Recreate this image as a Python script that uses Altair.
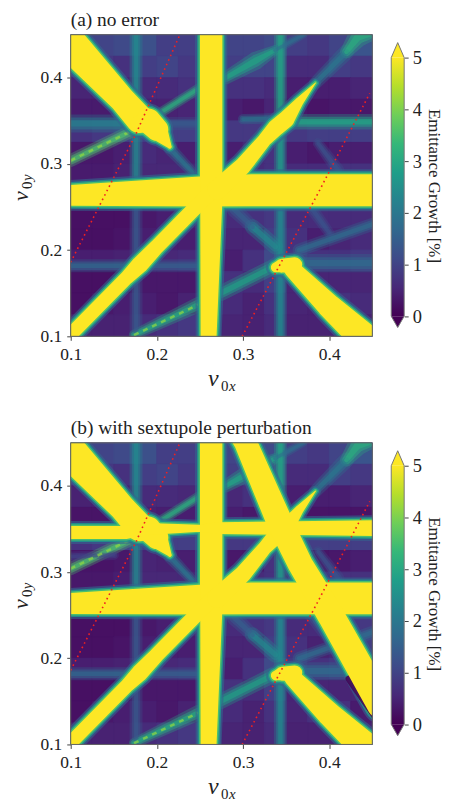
import altair as alt
import pandas as pd

FONT = "Liberation Serif"
XS = [0.1125, 0.1375, 0.1625, 0.1875, 0.2125, 0.2375, 0.2625, 0.2875, 0.3125, 0.3375, 0.3625, 0.3875, 0.4125, 0.4375]
YS = [0.4375, 0.4125, 0.3875, 0.3625, 0.3375, 0.3125, 0.2875, 0.2625, 0.2375, 0.2125, 0.1875, 0.1625, 0.1375, 0.1125]
GRID_A = [
    [.9, 1.0, 1.1, 1.2, .9, .9, 1, 1.0, 1.0, 1.1, .9, .8, 1.0, 1.3],
    [.8, .8, .7, .9, 1.0, .8, 1, .9, 1.0, 1.0, .6, .6, .9, .8],
    [.5, .5, .5, .6, .6, .7, 1, .7, .7, .6, .4, .4, .4, .5],
    [.35, .35, .45, .45, .45, .5, 1, .4, .3, .5, .3, .25, .3, .3],
    [.7, .8, .9, .9, .9, .9, 1, .8, .8, .9, .8, .9, .9, .9],
    [.3, .3, .4, .6, .5, .4, 1, .4, .6, .7, .4, .3, .4, .4],
    [.35, .35, .45, .55, .55, .55, 1, .6, .6, .7, .6, .6, .7, .7],
    [.5, .5, .5, .5, .5, .5, .5, .5, .5, .5, .5, .5, .5, .5],
    [.2, .2, .2, .3, .4, .5, 1, .6, .7, .8, .6, .6, .6, .6],
    [.2, .2, .25, .4, .4, .4, 1, .5, .5, .9, .7, .4, .5, .6],
    [.4, .4, .45, .55, .55, .6, 1, .4, .7, 1.1, .8, .7, .7, .8],
    [.2, .2, .2, .3, .3, .3, 1, .7, .6, .9, .5, .5, .5, .5],
    [.2, .3, .4, .4, .3, .45, 1, .6, .45, .7, .5, .45, .7, .6],
    [.45, .45, .45, .6, .7, .8, 1, .5, .45, .6, .45, .45, .45, .45],
]
GRID_B = [
    [.9, 1.0, 1.1, 1.2, .9, .9, 1, 1.0, 1.0, 1.1, .9, .8, 1.0, 1.3],
    [.8, .8, .7, .9, 1.0, .8, 1, .9, 1.0, 1.0, .6, .6, .9, .8],
    [.45, .45, .45, .6, .6, .55, 1, .55, .7, .6, .4, .4, .4, .5],
    [.25, .25, .45, .45, .4, .4, 1, .4, .3, .5, .25, .25, .25, .25],
    [.7, .8, .9, .9, .9, .9, 1, .8, .8, .9, .8, .9, .9, .9],
    [.25, .25, .3, .5, .45, .4, 1, .3, .3, .7, .4, .25, .3, .4],
    [.3, .3, .4, .55, .55, .55, 1, .45, .6, .7, .6, .7, .7, .7],
    [.5, .5, .5, .5, .5, .5, .5, .5, .5, .5, .5, .5, .5, .5],
    [.2, .2, .2, .3, .4, .5, 1, .6, .7, .8, .6, .6, .6, .8],
    [.2, .2, .25, .4, .4, .4, 1, .5, .5, .9, .7, .45, .55, .9],
    [.4, .4, .45, .55, .55, .6, 1, .4, .7, 1.1, .8, .7, .8, .8],
    [.2, .2, .2, .3, .3, .3, 1, .7, .6, .9, .5, .5, .5, .5],
    [.2, .3, .4, .4, .3, .45, 1, .6, .45, .7, .5, .7, .7, .35],
    [.45, .45, .45, .6, .7, .8, 1, .5, .45, .6, .45, .45, .45, .45],
]

# (value, polyline of x, y, width) for the faint resonance lines
SOFT_COMMON = [
    (2.4, [(.1758, .45, 5), (.1758, .345, 5)]),
    (2.3, [(.1758, .33, 5), (.1758, .27, 5)]),
    (1.4, [(.1758, .25, 5), (.1758, .1, 5)]),
    (3.0, [(.3433, .45, 5), (.3433, .355, 5)]),
    (2.8, [(.3433, .34, 5), (.3433, .28, 5)]),
    (2.4, [(.3433, .25, 5), (.3433, .1, 5)]),
    (1.9, [(.3, .352, 4), (.34, .353, 4)]),
    (1.7, [(.1, .182, 5), (.17, .182, 5)]),
    (1.5, [(.19, .182, 5), (.25, .182, 5)]),
    (1.8, [(.36, .185, 7), (.45, .185, 7)]),
    (3.6, [(.1, .304, 5), (.168, .337, 5)]),
    (3.2, [(.205, .36, 4), (.2486, .3875, 4)]),
    (3.0, [(.28, .4, 5), (.315, .42, 7), (.337, .432, 4)]),
    (1.8, [(.337, .432, 4), (.37, .45, 3)]),
    (3.1, [(.1735, .1015, 4), (.2486, .137, 6)]),
    (2.9, [(.274, .15, 6), (.3337, .18, 6)]),
    (1.8, [(.365, .20, 5), (.45, .23, 5)]),
    (2.4, [(.3375, .204, 6), (.311, .227, 6)]),
    (1.5, [(.311, .227, 5), (.29, .247, 6)]),
    (2.0, [(.384, .394, 5), (.42, .43, 6)]),
    (3.2, [(.42, .43, 5), (.433, .447, 8), (.445, .45, 6)]),
    (1.3, [(.387, .324, 4), (.41, .293, 5)]),
    (2.0, [(.215, .318, 5), (.2416, .29, 4)]),
    (1.3, [(.375, .255, 5), (.4, .22, 4)]),
]
SOFT_A = [
    (2.2, [(.1, .347, 7), (.165, .347, 7)]),
    (3.0, [(.36, .349, 6), (.45, .349, 6)]),
    (1.4, [(.21, .347, 5), (.25, .347, 5)]),
]
SOFT_B = [
    (1.0, [(.1, .318, 4), (.15, .32, 4)]),
]
YELLOW_COMMON = [
    [(.09, .2625, 20), (.1, .2636, 21), (.25, .268, 30), (.31, .2695, 32), (.46, .2695, 32)],
    [(.263, .46, 22.5), (.263, .29, 22.5), (.263, .25, 22), (.26, .1, 16), (.26, .09, 16)],
    [(.09, .092, 14), (.165, .168, 14), (.18, .183, 17), (.2, .204, 15), (.265, .27, 15)],
    [(.27, .27, 20), (.30, .298, 17), (.325, .328, 14), (.338, .342, 17), (.35, .352, 17), (.365, .372, 9), (.384, .394, 1)],
    [(.09, .45, 36), (.1, .4385, 34), (.16, .3745, 26), (.18, .352, 28)],
    [(.178, .347, 15), (.19, .35, 25), (.2, .34, 23), (.215, .32, 4)],
    [(.338, .18, 10), (.345, .182, 14), (.36, .183, 15)],
    [(.357, .178, 17), (.4, .135, 24), (.46, .08, 33)],
]
YELLOW_A = []
YELLOW_B = [
    [(.09, .346, 13), (.165, .346, 13), (.19, .35, 12), (.25, .351, 7), (.27, .351, 12), (.46, .351, 16)],
    [(.2972, .46, 23), (.3029, .4503, 23), (.341, .3612, 26), (.3664, .3091, 25), (.4022, .2490, 27), (.4496, .1645, 28), (.46, .146, 28)],
]
DARK_B = [(0.05, [(.423, .176, 7), (.453, .134, 8)])]
BEADS_COMMON = [[(.1, .304), (.168, .337)], [(.1735, .1015), (.2486, .137)]]
RED_1 = [(.1, .186), (.176, .3355), (.2267, .45)]
RED_2 = [(.299, .1), (.3395, .177), (.387, .266), (.447, .382)]
TICKS = [.1, .2, .3, .4]
CB_TICKS = [0, 1, 2, 3, 4, 5]
VIRIDIS = ["#440154", "#482878", "#3e4a89", "#31688e", "#26828e", "#1f9e89", "#35b779", "#6ece58", "#b5de2b", "#fde725"]

cscale = alt.Scale(scheme="viridis", domain=[0, 5], clamp=True)
xscale = alt.Scale(domain=[.1, .45], nice=False, zero=False)
yscale = alt.Scale(domain=[.1, .45], nice=False, zero=False)


def trail_df(bands):
    rows = []
    for b, (v, pts) in enumerate(bands):
        for i, (x, y, w) in enumerate(pts):
            rows.append(dict(b=b, i=i, x=x, y=y, w=w, v=v))
    return pd.DataFrame(rows)


def trail(df, opacity=1.0):
    return alt.Chart(df).mark_trail(clip=True, opacity=opacity).encode(
        x=alt.X("x:Q", scale=xscale, title=None),
        y=alt.Y("y:Q", scale=yscale, title=None),
        size=alt.Size("w:Q", scale=None, legend=None),
        color=alt.Color("v:Q", scale=cscale, legend=None),
        detail="b:N",
        order="i:Q",
    )


def widen(bands, add=0.0, mul=1.0, value=None):
    out = []
    for v, pts in bands:
        out.append((v if value is None else value, [(x, y, w * mul + add) for x, y, w in pts]))
    return out


def label(text, x, y, size, style="normal", angle=0, align="left"):
    return alt.Chart(alt.Data(values=[{}])).mark_text(
        text=text, font=FONT, fontSize=size, fontStyle=style, angle=angle, align=align, baseline="alphabetic", color="#222"
    ).encode(x=alt.value(x), y=alt.value(y))


def main_axis():
    return alt.Axis(values=TICKS, format=".1f", grid=False, domain=False, tickSize=4, tickColor="#444", labelFlush=False,
                    labelFont=FONT, labelFontSize=17.5, labelColor="#222", labelPadding=5)


def panel(title, grid, soft, yellow, dark):
    cells = pd.DataFrame([
        dict(x0=x - .0125, x1=x + .0125, y0=y - .0125, y1=y + .0125, v=grid[r][c])
        for r, y in enumerate(YS) for c, x in enumerate(XS)
    ])
    base = alt.Chart(pd.DataFrame([dict(a=.1, b=.45, v=.5)])).mark_rect().encode(
        x=alt.X("a:Q", scale=xscale, title=None, axis=main_axis()), x2="b:Q",
        y=alt.Y("a:Q", scale=yscale, title=None, axis=main_axis()), y2="b:Q",
        color=alt.Color("v:Q", scale=cscale, legend=None))
    back = alt.Chart(cells).mark_rect(strokeWidth=1).encode(
        x=alt.X("x0:Q", scale=xscale), x2="x1:Q",
        y=alt.Y("y0:Q", scale=yscale), y2="y1:Q",
        color=alt.Color("v:Q", scale=cscale, legend=None),
        stroke=alt.Stroke("v:Q", scale=cscale, legend=None),
    )
    soft_all = SOFT_COMMON + soft
    yel = [(5, p) for p in YELLOW_COMMON + yellow]
    layers = [base, back,
              trail(trail_df(widen(soft_all, mul=2.6)), .3),
              trail(trail_df(widen(soft_all, mul=1.7)), .45),
              trail(trail_df(widen(soft_all, mul=.9)), .6)]
    beads = pd.DataFrame([dict(b=b, i=i, x=p[0], y=p[1], v=4.2) for b, pts in enumerate(BEADS_COMMON) for i, p in enumerate(pts)])
    layers.append(alt.Chart(beads).mark_line(clip=True, strokeWidth=2.5, strokeDash=[5, 5], opacity=.7).encode(
        x=alt.X("x:Q", scale=xscale), y=alt.Y("y:Q", scale=yscale),
        color=alt.Color("v:Q", scale=cscale, legend=None), detail="b:N", order="i:Q"))
    layers += [trail(trail_df(widen(yel, add=10, value=1.6)), .6),
               trail(trail_df(widen(yel, add=6, value=2.6)), .85),
               trail(trail_df(widen(yel, add=3, value=3.6)), .95)]
    if dark:
        layers.append(trail(trail_df(dark), .9))
    layers.append(trail(trail_df(yel)))
    red = pd.DataFrame([dict(b=b, i=i, x=p[0], y=p[1]) for b, pts in enumerate([RED_1, RED_2]) for i, p in enumerate(pts)])
    layers.append(alt.Chart(red).mark_line(clip=True, color="#f02020", strokeWidth=1.6, strokeDash=[1.6, 3.4]).encode(
        x=alt.X("x:Q", scale=xscale), y=alt.Y("y:Q", scale=yscale), detail="b:N", order="i:Q"))
    frame = pd.DataFrame([dict(a=.1, b=.45)])
    layers.append(alt.Chart(frame).mark_rect(fill="transparent", stroke="#666", strokeWidth=1).encode(
        x=alt.X("a:Q", scale=xscale), x2="b:Q", y=alt.Y("a:Q", scale=yscale), y2="b:Q"))
    layers += [
        label(title, 0, -9, 19.5),
        label("ν", 138, 353, 24, "italic"),
        label("0", 151, 358, 15),
        label("x", 159, 358, 15, "italic"),
        label("ν", -43, 167, 22, "italic", angle=270),
        label("0", -39, 155, 15, angle=270),
        label("y", -39, 147, 15, "italic", angle=270),
    ]
    return alt.layer(*layers).resolve_scale(color="shared").properties(width=303, height=303)


def colorbar():
    ys = alt.Scale(domain=[-.39, 5.443], nice=False, zero=False)
    xs = alt.Scale(domain=[0, 1], nice=False, zero=False)
    cb_axis = alt.Axis(orient="right", values=CB_TICKS, format="d", grid=False, domain=False, tickSize=4, tickColor="#444",
                       labelFont=FONT, labelFontSize=18.5, labelColor="#222", labelPadding=4, labelFlush=False,
                       title="Emittance Growth [%]", titleFont=FONT, titleFontSize=17, titleFontWeight="normal", titleColor="#222",
                       titleAngle=90, titlePadding=7, titleBaseline="alphabetic")
    grad = alt.Gradient(gradient="linear", x1=0, x2=0, y1=1, y2=0,
                        stops=[alt.GradientStop(color=c, offset=i / (len(VIRIDIS) - 1)) for i, c in enumerate(VIRIDIS)])
    bar = alt.Chart(pd.DataFrame([dict(x0=0, x1=1, y0=0, y1=5)])).mark_rect(color=grad).encode(
        x=alt.X("x0:Q", scale=xs, axis=None), x2="x1:Q",
        y=alt.Y("y0:Q", scale=ys, axis=cb_axis),
        y2="y1:Q",
    )

    def tri(points, color):
        return alt.Chart(pd.DataFrame([dict(x=p[0], y=p[1], y2=p[2]) for p in points])).mark_area(color=color).encode(
            x=alt.X("x:Q", scale=xs, axis=None), y=alt.Y("y:Q", scale=ys, axis=cb_axis, stack=None), y2="y2:Q")
    top = tri([(0, 5, 5), (.5, 5.29, 5), (1, 5, 5)], VIRIDIS[-1])
    bot = tri([(0, 0, 0), (.5, -.22, 0), (1, 0, 0)], VIRIDIS[0])
    outline = pd.DataFrame([dict(i=i, x=p[0], y=p[1]) for i, p in enumerate(
        [(0, 0), (0, 5), (.5, 5.29), (1, 5), (1, 0), (.5, -.22), (0, 0)])])
    line = alt.Chart(outline).mark_line(color="#777", strokeWidth=1).encode(
        x=alt.X("x:Q", scale=xs, axis=None), y=alt.Y("y:Q", scale=ys, axis=cb_axis), order="i:Q")
    return alt.layer(bar, top, bot, line).properties(width=13, height=303)


row_a = alt.hconcat(panel("(a) no error", GRID_A, SOFT_A, YELLOW_A, []), colorbar(), spacing=16)
row_b = alt.hconcat(panel("(b) with sextupole perturbation", GRID_B, SOFT_B, YELLOW_B, DARK_B), colorbar(), spacing=16)
chart = alt.vconcat(row_a, row_b, spacing=24).properties(
    padding={"left": 2, "top": 0, "right": 0, "bottom": 0}, background="white"
).configure_view(stroke=None)
chart.save("out.html", embed_options={"renderer": "svg", "actions": False})
